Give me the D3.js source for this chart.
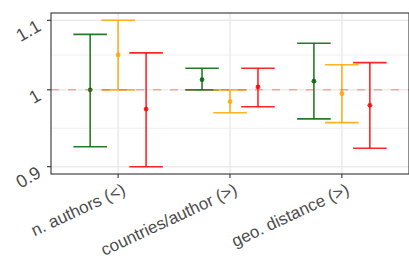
<!DOCTYPE html>
<html>
<head>
<meta charset="utf-8">
<script src="https://cdn.jsdelivr.net/npm/d3@7"></script>
<style>
  body { margin: 0; background: #fff; }
  text { font-family: "Liberation Sans", Arial, sans-serif; }
</style>
</head>
<body>
<div id="chart"></div>
<script>
// data
var categories = ["n. authors (<)", "countries/author (>)", "geo. distance (>)"];
var groups = ["A", "B", "C"];
var groupColors = ["#006400", "#FFA500", "#FF0000"];

var estA = [1.000, 1.014, 1.012];
var lowA = [0.925, 1.000, 0.961];
var highA = [1.079, 1.030, 1.066];

var estB = [1.049, 0.984, 0.995];
var lowB = [1.000, 0.969, 0.956];
var highB = [1.100, 1.000, 1.035];

var estC = [0.974, 1.004, 0.979];
var lowC = [0.900, 0.977, 0.923];
var highC = [1.052, 1.030, 1.038];

var yTicks = [0.9, 1, 1.1];
var yTickLabels = ["0.9", "1", "1.1"];

var svgWidth = 409;
var svgHeight = 264;

var margin = { top: 13, right: 0, bottom: 90, left: 51 };
var width = svgWidth - margin.left - margin.right;
var height = svgHeight - margin.top - margin.bottom;

var svg = d3.select("#chart")
  .append("svg")
  .attr("width", svgWidth)
  .attr("height", svgHeight);

var chartGroup = svg.append("g")
  .attr("transform", `translate(${margin.left}, ${margin.top})`);

// build rows from the arrays
var ests = [estA, estB, estC];
var lows = [lowA, lowB, lowC];
var highs = [highA, highB, highC];
var rows = [];
groups.forEach(function(g, gi) {
  categories.forEach(function(c, ci) {
    rows.push({ cat: c, group: gi, est: ests[gi][ci], low: lows[gi][ci], high: highs[gi][ci] });
  });
});

// scales
var xScale = d3.scalePoint()
  .domain(categories)
  .range([0, width])
  .padding(0.6);
var step = xScale.step();

var lo = Math.log(d3.min(rows, d => d.low));
var hi = Math.log(d3.max(rows, d => d.high));
var pad = (hi - lo) * 0.05;
var yScale = d3.scaleLog()
  .domain([Math.exp(lo - pad), Math.exp(hi + pad)])
  .range([height, 0]);

// minor breaks halfway (in log space) between majors
var minorTicks = [];
for (var i = 0; i < yTicks.length - 1; i++) {
  minorTicks.push(Math.sqrt(yTicks[i] * yTicks[i + 1]));
}

// grid
chartGroup.selectAll(".minor")
  .data(minorTicks)
  .enter()
  .append("line")
  .attr("x1", 0).attr("x2", width)
  .attr("y1", d => yScale(d)).attr("y2", d => yScale(d))
  .attr("stroke", "#ebebeb")
  .attr("stroke-width", 0.8);

chartGroup.selectAll(".majorY")
  .data(yTicks)
  .enter()
  .append("line")
  .attr("x1", 0).attr("x2", width)
  .attr("y1", d => yScale(d)).attr("y2", d => yScale(d))
  .attr("stroke", "#ebebeb")
  .attr("stroke-width", 1.5);

chartGroup.selectAll(".majorX")
  .data(categories)
  .enter()
  .append("line")
  .attr("x1", d => xScale(d)).attr("x2", d => xScale(d))
  .attr("y1", 0).attr("y2", height)
  .attr("stroke", "#ebebeb")
  .attr("stroke-width", 1.5);

// error bars
var dodge = [-0.25, 0, 0.25];
var capHalf = 0.15 * step;
function xPos(d) { return xScale(d.cat) + dodge[d.group] * step; }

var bars = chartGroup.selectAll(".bar")
  .data(rows)
  .enter()
  .append("g")
  .attr("stroke", d => groupColors[d.group])
  .attr("stroke-opacity", 0.85)
  .attr("stroke-width", 1.6);

bars.append("line")
  .attr("x1", xPos).attr("x2", xPos)
  .attr("y1", d => yScale(d.low)).attr("y2", d => yScale(d.high));
bars.append("line")
  .attr("x1", d => xPos(d) - capHalf).attr("x2", d => xPos(d) + capHalf)
  .attr("y1", d => yScale(d.high)).attr("y2", d => yScale(d.high));
bars.append("line")
  .attr("x1", d => xPos(d) - capHalf).attr("x2", d => xPos(d) + capHalf)
  .attr("y1", d => yScale(d.low)).attr("y2", d => yScale(d.low));

chartGroup.selectAll(".pt")
  .data(rows)
  .enter()
  .append("circle")
  .attr("cx", xPos)
  .attr("cy", d => yScale(d.est))
  .attr("r", 2.4)
  .attr("fill", d => groupColors[d.group])
  .attr("opacity", 0.85);

// reference line at 1
chartGroup.append("line")
  .attr("x1", 0).attr("x2", width)
  .attr("y1", yScale(1)).attr("y2", yScale(1))
  .attr("stroke", "#ff3b2b")
  .attr("stroke-opacity", 0.6)
  .attr("stroke-width", 1)
  .attr("stroke-dasharray", "8,9");

// panel border
chartGroup.append("rect")
  .attr("x", 0).attr("y", 0)
  .attr("width", width).attr("height", height)
  .attr("fill", "none")
  .attr("stroke", "#333333")
  .attr("stroke-width", 1.1);

// y axis ticks + labels
chartGroup.selectAll(".ytick")
  .data(yTicks)
  .enter()
  .append("line")
  .attr("x1", -4).attr("x2", 0)
  .attr("y1", d => yScale(d)).attr("y2", d => yScale(d))
  .attr("stroke", "#333333")
  .attr("stroke-width", 1.1);

chartGroup.selectAll(".ylab")
  .data(yTicks)
  .enter()
  .append("text")
  .attr("transform", d => `translate(-12, ${yScale(d) + 4}) rotate(-30)`)
  .attr("text-anchor", "end")
  .attr("dy", "0.35em")
  .attr("font-size", 18)
  .attr("fill", "#4d4d4d")
  .text((d, i) => yTickLabels[i]);

// x axis ticks + labels
chartGroup.selectAll(".xlab")
  .data(categories)
  .enter()
  .append("line")
  .attr("x1", d => xScale(d)).attr("x2", d => xScale(d))
  .attr("y1", height).attr("y2", height + 4)
  .attr("stroke", "#333333")
  .attr("stroke-width", 1.1);

chartGroup.selectAll(".xtext")
  .data(categories)
  .enter()
  .append("text")
  .attr("transform", d => `translate(${xScale(d) + 3}, ${height + 8}) rotate(-25)`)
  .attr("text-anchor", "end")
  .attr("dy", "0.75em")
  .attr("font-size", 17)
  .attr("fill", "#4d4d4d")
  .text(d => d);
</script>
</body>
</html>
